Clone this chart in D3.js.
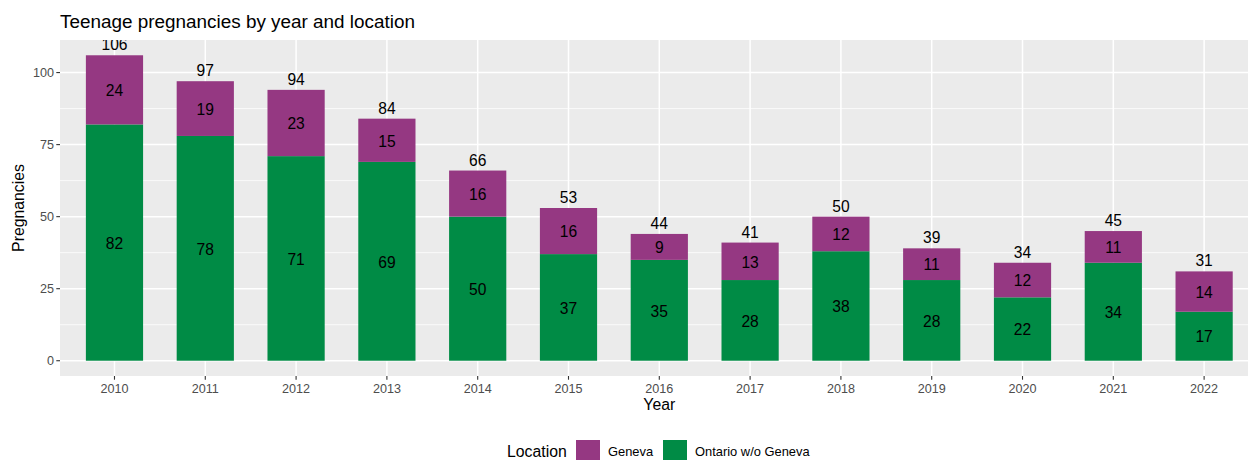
<!DOCTYPE html>
<html><head><meta charset="utf-8">
<script src="https://cdn.jsdelivr.net/npm/d3@7"></script>
<style>body{margin:0;background:#fff}svg{display:block;font-family:"Liberation Sans",Arial,sans-serif}</style>
</head><body><svg id="c" width="1248" height="460"></svg>
<script>
const years = ["2010","2011","2012","2013","2014","2015","2016","2017","2018","2019","2020","2021","2022"];
const ontario = [82,78,71,69,50,37,35,28,38,28,22,34,17];
const geneva = [24,19,23,15,16,16,9,13,12,11,12,11,14];
const yTicks = [0,25,50,75,100];
const seriesNames = ["Geneva","Ontario w/o Geneva"];
const colors = {"Geneva":"#953882","Ontario w/o Geneva":"#008B45"};

const svg = d3.select("#c");
const W = 1248, H = 460;
const pl = 60, pt = 40, pb = 376;
const pr = 1258.6;
const totals = years.map((y,i)=>ontario[i]+geneva[i]);
const maxT = d3.max(totals);
const y = d3.scaleLinear().domain([-maxT*0.05, maxT*1.05]).range([pb, pt]);
const x = d3.scalePoint().domain(years).range([pl, pr]).padding(0.6);
const bw = x.step()*0.63;
const xc = d => x(d);

svg.append("defs").append("clipPath").attr("id","pc").append("rect").attr("x",pl).attr("y",pt).attr("width",pr-pl).attr("height",pb-pt);
const panel = svg.append("g").attr("clip-path","url(#pc)");
panel.append("rect").attr("x",pl).attr("y",pt).attr("width",pr-pl).attr("height",pb-pt).attr("fill","#EBEBEB");
const minor = [];
for (let i=0;i<yTicks.length-1;i++) minor.push((yTicks[i]+yTicks[i+1])/2);
minor.push(112.5);
panel.selectAll(".mn").data(minor).enter().append("line")
  .attr("x1",pl).attr("x2",pr).attr("y1",d=>y(d)).attr("y2",d=>y(d)).attr("stroke","#fff").attr("stroke-width",0.75);
panel.selectAll(".mj").data(yTicks).enter().append("line")
  .attr("x1",pl).attr("x2",pr).attr("y1",d=>y(d)).attr("y2",d=>y(d)).attr("stroke","#fff").attr("stroke-width",1.5);
panel.selectAll(".vx").data(years).enter().append("line")
  .attr("x1",d=>xc(d)).attr("x2",d=>xc(d)).attr("y1",pt).attr("y2",pb).attr("stroke","#fff").attr("stroke-width",1.5);

const rows = years.map((yr,i)=>({year:yr,"Ontario w/o Geneva":ontario[i],"Geneva":geneva[i]}));
const stack = d3.stack().keys(["Ontario w/o Geneva","Geneva"])(rows);
stack.forEach(s=>{
  panel.selectAll(null).data(s).enter().append("rect")
    .attr("x",d=>xc(d.data.year)-bw/2).attr("width",bw)
    .attr("y",d=>y(d[1])).attr("height",d=>y(d[0])-y(d[1]))
    .attr("fill",colors[s.key]);
  panel.selectAll(null).data(s).enter().append("text")
    .attr("x",d=>xc(d.data.year)).attr("y",d=>y((d[0]+d[1])/2)).attr("dy","0.4em")
    .attr("text-anchor","middle").attr("font-size","15.6px").attr("fill","#000")
    .text(d=>d[1]-d[0]);
});
panel.selectAll(".tot").data(years).enter().append("text")
  .attr("x",d=>xc(d)).attr("y",(d,i)=>y(totals[i])-5)
  .attr("text-anchor","middle").attr("font-size","15.6px").attr("fill","#000")
  .text((d,i)=>totals[i]);

const ax = svg.append("g");
yTicks.forEach(t=>{
  ax.append("line").attr("x1",pl-3.7).attr("x2",pl).attr("y1",y(t)).attr("y2",y(t)).attr("stroke","#333").attr("stroke-width",1.1);
  ax.append("text").attr("x",pl-6).attr("y",y(t)).attr("dy","0.36em").attr("text-anchor","end")
    .attr("font-size","12.6px").attr("fill","#4D4D4D").text(t);
});
years.forEach(yr=>{
  ax.append("line").attr("x1",xc(yr)).attr("x2",xc(yr)).attr("y1",pb).attr("y2",pb+3.7).attr("stroke","#333").attr("stroke-width",1.1);
  ax.append("text").attr("x",xc(yr)).attr("y",pb+16.5).attr("text-anchor","middle")
    .attr("font-size","12.6px").attr("fill","#4D4D4D").text(yr);
});
svg.append("text").attr("x",(pl+pr)/2).attr("y",410).attr("text-anchor","middle").attr("font-size","15.8px").text("Year");
svg.append("text").attr("transform",`translate(24,${(pt+pb)/2}) rotate(-90)`).attr("text-anchor","middle").attr("font-size","15.8px").text("Pregnancies");
svg.append("text").attr("x",60).attr("y",28).attr("font-size","18.9px").text("Teenage pregnancies by year and location");

const lg = svg.append("g");
lg.append("text").attr("x",507).attr("y",457).attr("font-size","15.8px").text("Location");
const keyX = [576, 663], txtX = [608, 695];
seriesNames.forEach((n,i)=>{
  lg.append("rect").attr("x",keyX[i]).attr("y",440).attr("width",24).attr("height",23).attr("fill",colors[n]);
  lg.append("text").attr("x",txtX[i]).attr("y",456).attr("font-size","12.9px").attr("fill","#000").text(n);
});
</script></body></html>
